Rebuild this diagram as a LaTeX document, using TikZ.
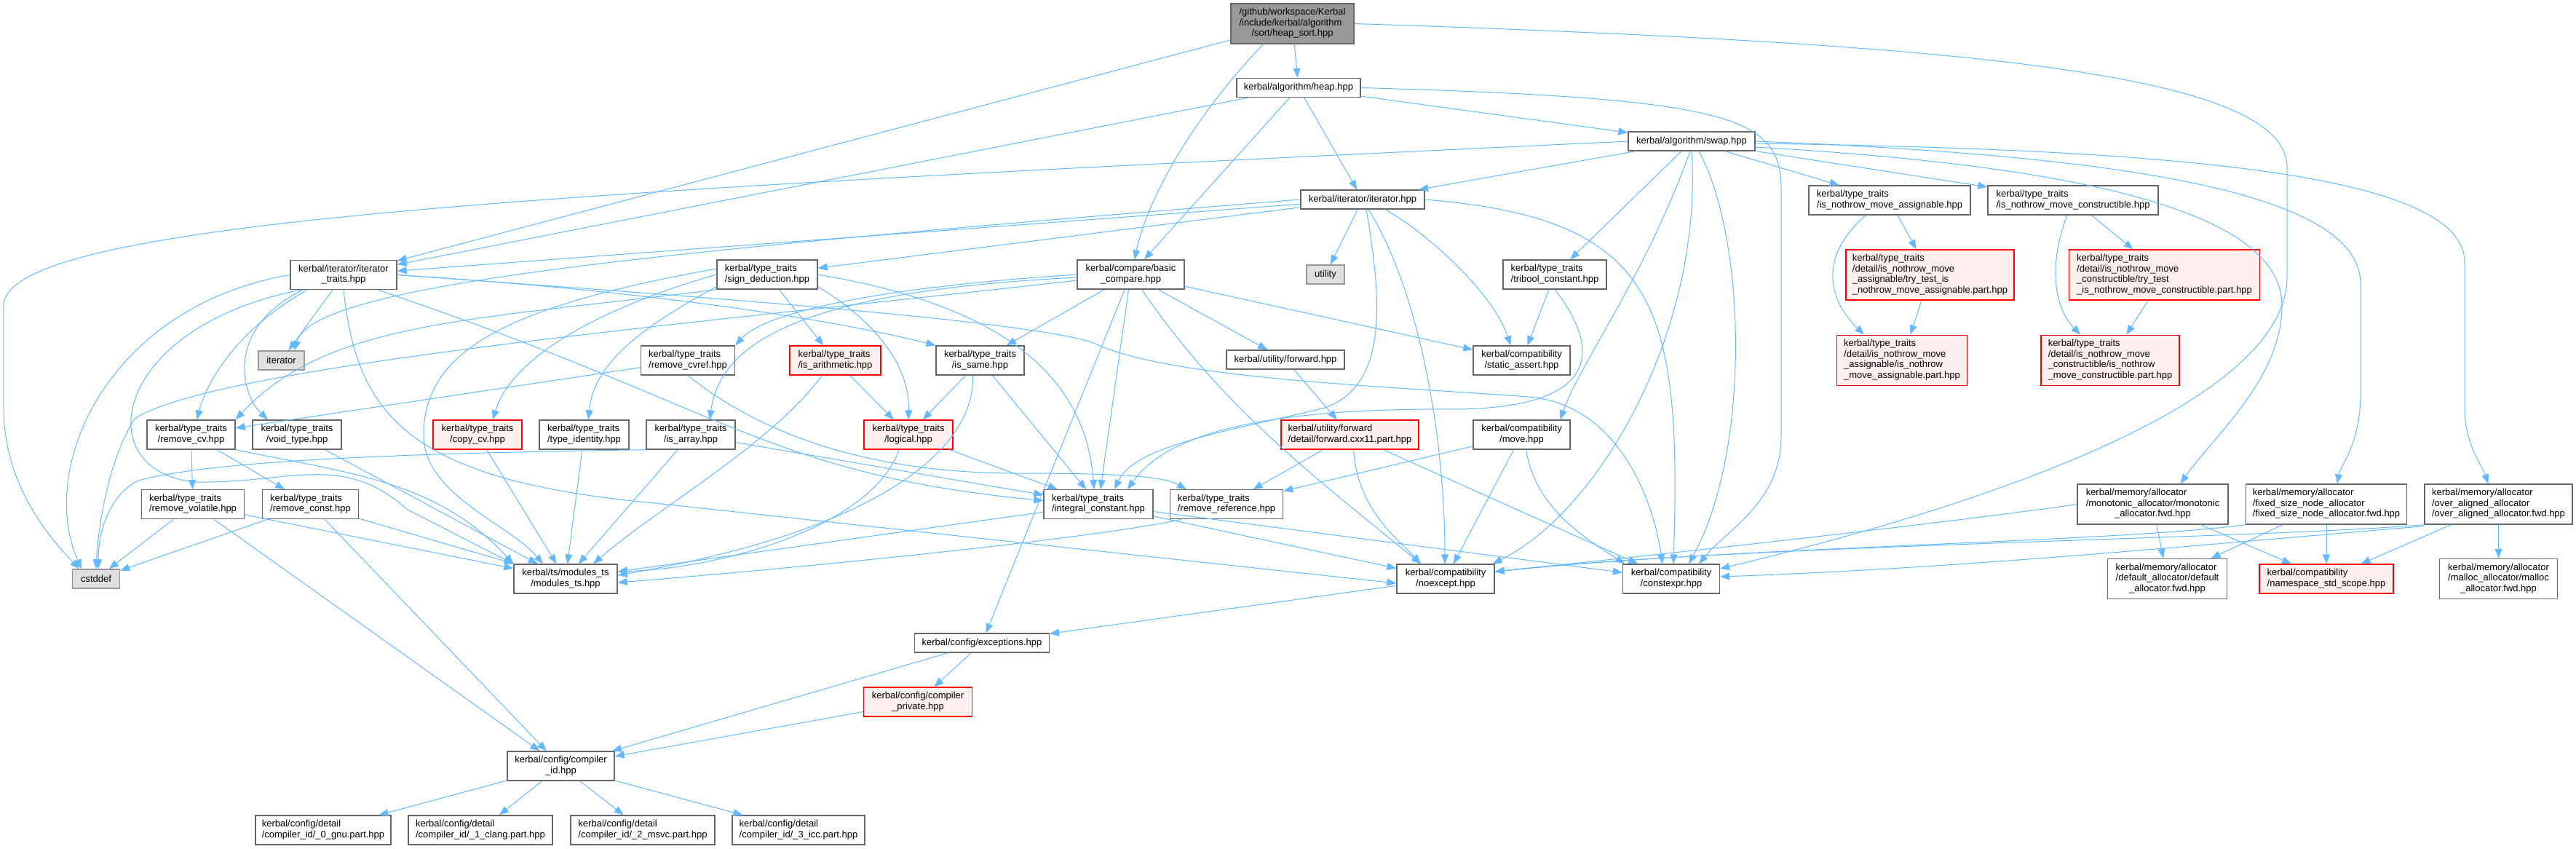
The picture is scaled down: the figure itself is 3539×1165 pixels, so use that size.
\documentclass[tikz,border=0pt]{standalone}
\usepackage{fontspec}
\setmainfont{Liberation Sans}
\usetikzlibrary{arrows.meta}
\definecolor{edgec}{HTML}{63B8FF}
\definecolor{bordc}{HTML}{666666}
\definecolor{redfill}{HTML}{FFF0F0}
\definecolor{sysfill}{HTML}{E0E0E0}
\definecolor{sysbord}{HTML}{999999}
\definecolor{topfill}{HTML}{999999}
\newcommand{\lab}[2]{\begin{tabular}{@{}l@{}}#1\multicolumn{1}{@{}c@{}}{#2}\end{tabular}}
\tikzset{
 nd/.style={draw=bordc, fill=white, line width=1.3pt, inner xsep=8pt, inner ysep=0pt, font=\fontsize{13pt}{14.5pt}\selectfont, text=black},
 rd/.style={nd, draw=red, fill=redfill, line width=1.2pt},
 sy/.style={nd, draw=sysbord, fill=sysfill},
 tp/.style={nd, fill=topfill},
 hA/.style={minimum height=26pt},
 hB/.style={minimum height=40pt},
 hC/.style={minimum height=55pt},
 hD/.style={minimum height=69pt},
 dep/.style={draw=edgec, line width=1pt, -{Triangle[length=13pt,width=10pt]}}
}
\begin{document}
\begin{tikzpicture}[x=1pt,y=-1pt]
\useasboundingbox (0,0) rectangle (3539,1165);
% nodes
\node[tp,hC,minimum width=169pt] (N1) at (1775.5,32.5) {\lab{/github/workspace/Kerbal\\/include/kerbal/algorithm\\}{/sort/heap\_sort.hpp}};
\node[nd,hA,minimum width=170pt] (N2) at (1784,120.5) {kerbal/algorithm/heap.hpp};
\node[nd,hA,minimum width=174pt] (N6) at (2324,194) {kerbal/algorithm/swap.hpp};
\node[nd,hA,minimum width=170pt] (N7) at (1872,274) {kerbal/iterator/iterator.hpp};
\node[nd,hB,minimum width=146pt] (N3) at (472,377.5) {\lab{kerbal/iterator/iterator\\}{\_traits.hpp}};
\node[nd,hB,minimum width=138pt] (N22) at (1054,377) {\lab{kerbal/type\_traits\\}{/sign\_deduction.hpp}};
\node[nd,hB,minimum width=147pt] (N4) at (1553.5,377) {\lab{kerbal/compare/basic\\}{\_compare.hpp}};
\node[sy,hA,minimum width=52pt] (N36) at (1821,377) {utility};
\node[nd,hB,minimum width=142pt] (N37) at (2136,377) {\lab{kerbal/type\_traits\\}{/tribool\_constant.hpp}};
\node[nd,hB,minimum width=222pt] (N39) at (2596,275) {\lab{kerbal/type\_traits\\}{/is\_nothrow\_move\_assignable.hpp}};
\node[nd,hB,minimum width=234pt] (N42) at (2848,275) {\lab{kerbal/type\_traits\\}{/is\_nothrow\_move\_constructible.hpp}};
\node[rd,hD,minimum width=231pt] (N40) at (2651.5,377.5) {\lab{kerbal/type\_traits\\/detail/is\_nothrow\_move\\\_assignable/try\_test\_is\\}{\_nothrow\_move\_assignable.part.hpp}};
\node[rd,hD,minimum width=262pt] (N43) at (2973.5,377.5) {\lab{kerbal/type\_traits\\/detail/is\_nothrow\_move\\\_constructible/try\_test\\}{\_is\_nothrow\_move\_constructible.part.hpp}};
\node[sy,hA,minimum width=63pt] (N9) at (386.5,495) {iterator};
\node[nd,hB,minimum width=129pt] (N23) at (945,495) {\lab{kerbal/type\_traits\\}{/remove\_cvref.hpp}};
\node[rd,hB,minimum width=125pt] (N24) at (1147.5,495) {\lab{kerbal/type\_traits\\}{/is\_arithmetic.hpp}};
\node[nd,hB,minimum width=121pt] (N28) at (1346.5,495) {\lab{kerbal/type\_traits\\}{/is\_same.hpp}};
\node[nd,hA,minimum width=162pt] (N31) at (1766,494) {kerbal/utility/forward.hpp};
\node[nd,hB,minimum width=133pt] (N30) at (2090.5,495) {\lab{kerbal/compatibility\\}{/static\_assert.hpp}};
\node[rd,hD,minimum width=179pt] (N41) at (2613,494.7) {\lab{kerbal/type\_traits\\/detail/is\_nothrow\_move\\\_assignable/is\_nothrow\\}{\_move\_assignable.part.hpp}};
\node[rd,hD,minimum width=190pt] (N44) at (2899,494.7) {\lab{kerbal/type\_traits\\/detail/is\_nothrow\_move\\\_constructible/is\_nothrow\\}{\_move\_constructible.part.hpp}};
\node[nd,hB,minimum width=121pt] (N10) at (262.5,597) {\lab{kerbal/type\_traits\\}{/remove\_cv.hpp}};
\node[nd,hB,minimum width=122pt] (N11) at (408,597) {\lab{kerbal/type\_traits\\}{/void\_type.hpp}};
\node[rd,hB,minimum width=122pt] (N26) at (656,597) {\lab{kerbal/type\_traits\\}{/copy\_cv.hpp}};
\node[nd,hB,minimum width=123pt] (N27) at (802.5,597) {\lab{kerbal/type\_traits\\}{/type\_identity.hpp}};
\node[nd,hB,minimum width=122pt] (N29) at (949,597) {\lab{kerbal/type\_traits\\}{/is\_array.hpp}};
\node[rd,hB,minimum width=122pt] (N25) at (1248,597) {\lab{kerbal/type\_traits\\}{/logical.hpp}};
\node[rd,hB,minimum width=189pt] (N32) at (1854.5,597) {\lab{kerbal/utility/forward\\}{/detail/forward.cxx11.part.hpp}};
\node[nd,hB,minimum width=133pt] (N38) at (2090.5,597) {\lab{kerbal/compatibility\\}{/move.hpp}};
\node[nd,hB,minimum width=141pt] (N15) at (265,692.7) {\lab{kerbal/type\_traits\\}{/remove\_volatile.hpp}};
\node[nd,hB,minimum width=132pt] (N16) at (426.5,692.7) {\lab{kerbal/type\_traits\\}{/remove\_const.hpp}};
\node[nd,hB,minimum width=150pt] (N13) at (1509,692.7) {\lab{kerbal/type\_traits\\}{/integral\_constant.hpp}};
\node[nd,hB,minimum width=155pt] (N33) at (1685,692.7) {\lab{kerbal/type\_traits\\}{/remove\_reference.hpp}};
\node[nd,hC,minimum width=207pt] (N45) at (2957.5,692.5) {\lab{kerbal/memory/allocator\\/monotonic\_allocator/monotonic\\}{\_allocator.fwd.hpp}};
\node[nd,hC,minimum width=221pt] (N48) at (3196,692.5) {\lab{kerbal/memory/allocator\\/fixed\_size\_node\_allocator\\}{/fixed\_size\_node\_allocator.fwd.hpp}};
\node[nd,hC,minimum width=203pt] (N49) at (3432.5,692.5) {\lab{kerbal/memory/allocator\\/over\_aligned\_allocator\\}{/over\_aligned\_allocator.fwd.hpp}};
\node[sy,hA,minimum width=65pt] (N8) at (132,795) {cstddef};
\node[nd,hB,minimum width=142pt] (N12) at (777,795) {\lab{kerbal/ts/modules\_ts\\}{/modules\_ts.hpp}};
\node[nd,hB,minimum width=134pt] (N14) at (1986,795) {\lab{kerbal/compatibility\\}{/noexcept.hpp}};
\node[nd,hB,minimum width=133pt] (N5) at (2296,795) {\lab{kerbal/compatibility\\}{/constexpr.hpp}};
\node[nd,hC,minimum width=164pt] (N46) at (2977.5,795) {\lab{kerbal/memory/allocator\\/default\_allocator/default\\}{\_allocator.fwd.hpp}};
\node[rd,hB,minimum width=184pt] (N47) at (3196,795) {\lab{kerbal/compatibility\\}{/namespace\_std\_scope.hpp}};
\node[nd,hC,minimum width=162pt] (N50) at (3432.5,795) {\lab{kerbal/memory/allocator\\/malloc\_allocator/malloc\\}{\_allocator.fwd.hpp}};
\node[nd,hA,minimum width=185pt] (N34) at (1349,883) {kerbal/config/exceptions.hpp};
\node[rd,hB,minimum width=149pt] (N35) at (1261,964) {\lab{kerbal/config/compiler\\}{\_private.hpp}};
\node[nd,hB,minimum width=147pt] (N17) at (770.5,1052) {\lab{kerbal/config/compiler\\}{\_id.hpp}};
\node[nd,hB,minimum width=186pt] (N18) at (444,1140) {\lab{kerbal/config/detail\\}{/compiler\_id/\_0\_gnu.part.hpp}};
\node[nd,hB,minimum width=198pt] (N19) at (660,1140) {\lab{kerbal/config/detail\\}{/compiler\_id/\_1\_clang.part.hpp}};
\node[nd,hB,minimum width=198pt] (N20) at (883,1140) {\lab{kerbal/config/detail\\}{/compiler\_id/\_2\_msvc.part.hpp}};
\node[nd,hB,minimum width=182pt] (N21) at (1097,1140) {\lab{kerbal/config/detail\\}{/compiler\_id/\_3\_icc.part.hpp}};
% straight edges
\draw[dep] (N1) -- (N2);
\draw[dep] (N1) -- (N3);
\draw[dep] (N2) -- (N3);
\draw[dep] (N2) -- (N4);
\draw[dep] (N2) -- (N7);
\draw[dep] (N2) -- (N6);
\draw[dep] (N6) -- (N7);
\draw[dep] (N6) -- (N37);
\draw[dep] (N6) -- (N39);
\draw[dep] (N6) -- (N42);
\draw[dep] (N7) -- (N3);
\draw[dep] (N7) -- (N22);
\draw[dep] (N7) -- (N36);
\draw[dep] (N3) -- (N9);
\draw[dep] (N22) -- (N24);
\draw[dep] (N4) -- (N28);
\draw[dep] (N4) -- (N13);
\draw[dep] (N4) -- (N34);
\draw[dep] (N4) -- (N31);
\draw[dep] (N4) -- (N30);
\draw[dep] (N23) -- (N10);
\draw[dep] (N24) -- (N25);
\draw[dep] (N28) -- (N25);
\draw[dep] (N28) -- (N13);
\draw[dep] (N25) -- (N13);
\draw[dep] (N29) -- (N13);
\draw[dep] (N29) -- (N12);
\draw[dep] (N26) -- (N12);
\draw[dep] (N27) -- (N12);
\draw[dep] (N11) -- (N12);
\draw[dep] (N15) -- (N12);
\draw[dep] (N16) -- (N12);
\draw[dep] (N10) -- (N15);
\draw[dep] (N10) -- (N16);
\draw[dep] (N15) -- (N8);
\draw[dep] (N16) -- (N8);
\draw[dep] (N15) -- (N17);
\draw[dep] (N16) -- (N17);
\draw[dep] (N13) -- (N12);
\draw[dep] (N13) -- (N14);
\draw[dep] (N13) -- (N5);
\draw[dep] (N31) -- (N32);
\draw[dep] (N32) -- (N33);
\draw[dep] (N32) -- (N5);
\draw[dep] (N38) -- (N33);
\draw[dep] (N38) -- (N14);
\draw[dep] (N37) -- (N30);
\draw[dep] (N39) -- (N40);
\draw[dep] (N40) -- (N41);
\draw[dep] (N42) -- (N43);
\draw[dep] (N43) -- (N44);
\draw[dep] (N14) -- (N34);
\draw[dep] (N34) -- (N35);
\draw[dep] (N34) -- (N17);
\draw[dep] (N35) -- (N17);
\draw[dep] (N17) -- (N18);
\draw[dep] (N17) -- (N19);
\draw[dep] (N17) -- (N20);
\draw[dep] (N17) -- (N21);
\draw[dep] (N45) -- (N46);
\draw[dep] (N45) -- (N47);
\draw[dep] (N48) -- (N46);
\draw[dep] (N48) -- (N47);
\draw[dep] (N49) -- (N47);
\draw[dep] (N49) -- (N50);
% curved edges
\draw[dep] (N1.east) .. controls (2700,60) and (3142,100) .. (3142,230) -- (3142,380) .. controls (3142,560) and (2700,700) .. ([yshift=14pt]N5.east);
\draw[dep] (N2.east) .. controls (2380,135) and (2447,160) .. (2447,260) -- (2447,600) .. controls (2447,690) and (2370,730) .. ([xshift=38pt]N5.north);
\draw[dep] (N6.west) .. controls (800,262) and (5,300) .. (5,420) -- (5,560) .. controls (5,660) and (60,730) .. ([xshift=-23pt]N8.north);
\draw[dep] ([yshift=-3pt]N6.east) .. controls (3000,205) and (3386,240) .. (3386,360) -- (3386,560) .. controls (3386,610) and (3410,640) .. ([xshift=-14pt]N49.north);
\draw[dep] (N6.east) .. controls (2950,215) and (3243,270) .. (3243,390) -- (3243,540) .. controls (3243,610) and (3215,640) .. ([xshift=15pt]N48.north);
\draw[dep] ([yshift=-8pt]N6.east) .. controls (2900,230) and (3135,300) .. (3135,420) .. controls (3135,520) and (3040,600) .. ([xshift=38pt]N45.north);
\draw[dep] ([xshift=-40pt]N1.south) .. controls (1650,150) and (1580,260) .. ([xshift=5pt]N4.north);
\draw[dep] (N7.west) .. controls (900,345) and (430,390) .. ([xshift=18pt]N9.north);
\draw[dep] ([xshift=5pt]N7.south) .. controls (1900,420) and (1905,530) .. (1820,560) .. controls (1700,590) and (1560,610) .. ([xshift=22pt]N13.north);
\draw[dep] (N7.east) .. controls (2280,300) and (2310,420) .. ([xshift=3pt]N5.north);
\draw[dep] ([xshift=8pt]N7.south) .. controls (1950,400) and (1985,600) .. ([xshift=-1pt]N14.north);
\draw[dep] ([xshift=31pt]N7.south) .. controls (1960,320) and (2050,400) .. ([xshift=-15pt]N30.north);
\draw[dep] (N3.west) .. controls (150,420) and (50,640) .. ([xshift=-20pt]N8.north);
\draw[dep] ([xshift=-50pt]N3.south) .. controls (330,450) and (285,520) .. ([xshift=8pt]N10.north);
\draw[dep] ([xshift=-56pt]N3.south) .. controls (310,450) and (330,540) .. ([xshift=-40pt]N11.north);
\draw[dep] ([xshift=-59pt]N3.south) .. controls (150,450) and (120,650) .. (270,662) .. controls (400,664) and (470,620) .. (560,700) -- (N12.north west);
\draw[dep] ([xshift=47pt]N3.south) .. controls (1000,560) and (1050,650) .. ([yshift=5pt]N13.west);
\draw[dep] (N3.south) .. controls (490,570) and (560,660) .. (900,691) -- ([yshift=-6pt]N14.west);
\draw[dep] (N3.east) .. controls (1000,410) and (1400,440) .. (1500,470) .. controls (1600,520) and (1900,530) .. (2100,545) .. controls (2220,555) and (2270,680) .. ([xshift=-12pt]N5.north);
\draw[dep] (N3.east) .. controls (900,400) and (1150,440) .. (N28.north west);
\draw[dep] (N22.east) .. controls (1350,415) and (1490,500) .. ([xshift=-6pt]N13.north);
\draw[dep] ([yshift=4pt]N22.south east) .. controls (1200,440) and (1250,500) .. (N25.north);
\draw[dep] (N22.west) .. controls (800,430) and (700,500) .. ([xshift=21pt]N26.north);
\draw[dep] ([yshift=4pt]N22.south west) .. controls (880,450) and (815,500) .. ([xshift=6pt]N27.north);
\draw[dep] (N22.south west) .. controls (650,440) and (450,440) .. (N10.north east);
\draw[dep] ([yshift=8pt]N22.west) .. controls (700,420) and (580,480) .. (582,600) .. controls (584,680) and (700,720) .. ([xshift=-31pt]N12.north);
\draw[dep] (N4.west) .. controls (1200,395) and (1050,430) .. (N23.north east);
\draw[dep] ([yshift=-4pt]N4.west) .. controls (1100,400) and (990,470) .. ([xshift=26pt]N29.north);
\draw[dep] ([yshift=-8pt]N4.west) .. controls (1000,440) and (300,500) .. (185,575) .. controls (150,630) and (135,720) .. (N8.north);
\draw[dep] ([xshift=15pt]N4.south) .. controls (1680,560) and (1800,650) .. ([xshift=-34pt]N14.north);
\draw[dep] (N29.south west) .. controls (600,622) and (300,630) .. (190,660) .. controls (150,680) and (135,730) .. ([xshift=3pt]N8.north);
\draw[dep] (N23.south) .. controls (1050,600) and (1200,650) .. (1400,650) .. controls (1550,650) and (1600,655) .. ([xshift=-55pt]N33.north);
\draw[dep] (N10.south east) .. controls (480,650) and (600,660) .. (N12.north west);
\draw[dep] ([xshift=-18pt]N24.south) .. controls (1060,610) and (900,700) .. ([xshift=38pt]N12.north);
\draw[dep] ([xshift=-10pt]N28.south) .. controls (1340,620) and (1200,730) .. ([yshift=5pt]N12.east);
\draw[dep] ([xshift=-13pt]N25.south) .. controls (1200,720) and (1000,780) .. ([yshift=10pt]N12.east);
\draw[dep] ([xshift=-62pt]N33.south) .. controls (1500,740) and (1100,780) .. ([yshift=-5pt]N12.east);
\draw[dep] (N37.south) .. controls (2200,480) and (2200,560) .. (2000,562) .. controls (1720,560) and (1600,600) .. ([xshift=40pt]N13.north);
\draw[dep] ([xshift=-2pt]N6.south) .. controls (2260,380) and (2170,500) .. ([xshift=53pt]N38.north);
\draw[dep] (N6.south) .. controls (2340,450) and (2200,700) .. ([xshift=-3pt]N14.north east);
\draw[dep] ([xshift=10pt]N6.south) .. controls (2400,330) and (2405,620) .. ([xshift=24pt]N5.north);
\draw[dep] ([xshift=5pt]N32.south) .. controls (1865,700) and (1920,740) .. ([xshift=-34pt]N14.north);
\draw[dep] ([xshift=6pt]N38.south) .. controls (2110,700) and (2180,740) .. ([xshift=3pt]N5.north west);
\draw[dep] ([xshift=-33pt]N39.south) .. controls (2490,360) and (2520,420) .. ([xshift=-52pt]N41.north);
\draw[dep] ([xshift=-8pt]N42.south) .. controls (2815,360) and (2820,420) .. ([xshift=-41pt]N44.north);
\draw[dep] (N45.west) .. controls (2700,715) and (2300,760) .. ([yshift=10pt]N14.east);
\draw[dep] (N48.south west) .. controls (2900,745) and (2400,750) .. ([yshift=10pt]N14.east);
\draw[dep] (N49.south west) .. controls (3100,740) and (2400,748) .. ([yshift=10pt]N14.east);
\draw[dep] ([yshift=-2pt]N49.south west) .. controls (3000,750) and (2700,780) .. ([yshift=3pt]N5.east);
\end{tikzpicture}
\end{document}
